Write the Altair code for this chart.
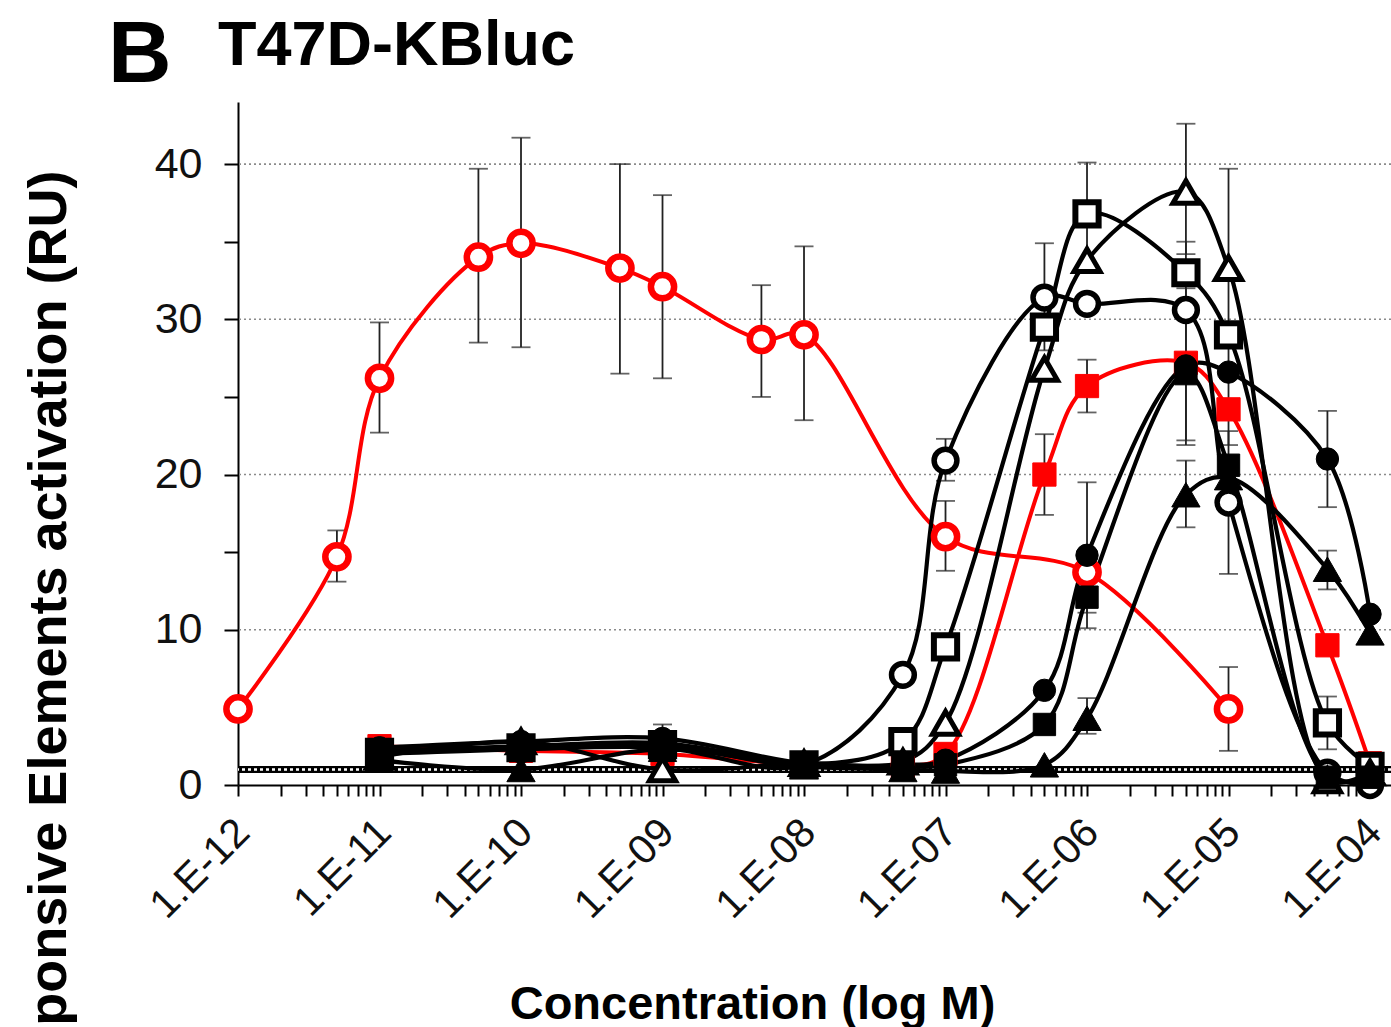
import altair as alt
import pandas as pd

# ---------------- data ----------------
e2_doses = [1e-12, 5e-12, 1e-11, 5e-11, 1e-10, 5e-10, 1e-9, 5e-9, 1e-8, 1e-7, 1e-6, 1e-5]
e2_values = [4.9, 14.7, 26.2, 34.0, 34.9, 33.3, 32.1, 28.7, 29.0, 16.0, 13.7, 4.9]

doses = [1e-11, 1e-10, 1e-9, 1e-8, 5e-8, 1e-7, 5e-7, 1e-6, 5e-6, 1e-5, 5e-5, 1e-4]
red_square = [2.5, 2.2, 2.0, 1.3, 1.2, 2.0, 20.0, 25.7, 27.2, 24.2, 9.0, 1.4]
open_circle = [2.0, 2.3, 2.4, 1.3, 7.1, 20.9, 31.4, 31.0, 30.6, 18.2, 0.8, 0.0]
open_square = [2.1, 2.4, 2.6, 1.3, 2.8, 8.9, 29.5, 36.8, 33.0, 29.0, 4.0, 1.2]
open_triangle = [1.8, 2.8, 1.0, 1.4, 1.5, 4.0, 26.8, 33.8, 38.2, 33.3, 0.3, 0.8]
filled_circle = [2.4, 2.8, 3.0, 1.4, 1.3, 1.6, 6.1, 14.8, 27.0, 26.6, 21.0, 11.0]
filled_square = [2.2, 2.5, 2.7, 1.3, 1.2, 1.3, 3.9, 12.1, 26.5, 20.6, 0.5, 0.5]
filled_triangle = [1.6, 1.0, 2.3, 1.2, 1.0, 0.9, 1.3, 4.3, 18.7, 19.8, 13.9, 9.8]

# error bars
err_series = (["E2"] * 10 + ["red_square"] * 3 + ["open_circle"] * 3 + ["open_square"] * 3
              + ["open_triangle"] * 2 + ["filled_circle"] * 4 + ["filled_square"] * 2
              + ["filled_triangle"] * 3)
err_doses = [5e-12, 1e-11, 5e-11, 1e-10, 5e-10, 1e-9, 5e-9, 1e-8, 1e-7, 1e-5,
             5e-7, 1e-6, 1e-5,
             1e-7, 5e-7, 1e-5,
             1e-6, 5e-6, 5e-5,
             5e-6, 1e-5,
             1e-9, 1e-6, 5e-6, 5e-5,
             1e-6, 5e-6,
             1e-6, 5e-6, 5e-5]
err_low = [13.1, 22.7, 28.5, 28.2, 26.5, 26.2, 25.0, 23.5, 13.8, 2.2,
           17.4, 24.0, 21.9,
           19.6, 28.0, 13.6,
           33.5, 31.0, 2.3,
           34.2, 27.0,
           2.1, 10.1, 21.9, 17.9,
           11.1, 22.2,
           3.3, 16.6, 12.6]
err_high = [16.4, 29.8, 39.7, 41.7, 40.0, 38.0, 32.2, 34.7, 18.3, 7.6,
            22.6, 27.4, 26.5,
            22.3, 34.9, 22.8,
            40.1, 35.0, 5.7,
            42.6, 39.7,
            3.9, 19.5, 32.0, 24.1,
            13.1, 30.8,
            5.6, 20.9, 15.1]

grid_values = [10, 20, 30, 40]
baseline_value = [1.0]
y_ticks = [0, 5, 10, 15, 20, 25, 30, 35, 40]
x_ticks = [m * 10.0 ** e for e in range(-12, -4) for m in range(1, 10)] + [1e-4]

# ---------------- styles ----------------
RED = "#ff0000"
BLK = "#000000"
series_order = ["E2", "red_square", "open_circle", "open_square", "open_triangle",
                "filled_circle", "filled_square", "filled_triangle"]
series_values = {
    "E2": (e2_doses, e2_values),
    "red_square": (doses, red_square),
    "open_circle": (doses, open_circle),
    "open_square": (doses, open_square),
    "open_triangle": (doses, open_triangle),
    "filled_circle": (doses, filled_circle),
    "filled_square": (doses, filled_square),
    "filled_triangle": (doses, filled_triangle),
}
styles = {
    "E2": dict(shape="circle", fill="white", stroke=RED, size=540, sw=6.5, line=RED, lw=4),
    "red_square": dict(shape="square", fill=RED, stroke=RED, size=540, sw=1, line=RED, lw=4),
    "open_circle": dict(shape="circle", fill="white", stroke=BLK, size=520, sw=5.5, line=BLK, lw=4.2),
    "open_square": dict(shape="square", fill="white", stroke=BLK, size=540, sw=6, line=BLK, lw=4.2),
    "open_triangle": dict(shape="triangle-up", fill="white", stroke=BLK, size=680, sw=5, line=BLK, lw=4.2),
    "filled_circle": dict(shape="circle", fill=BLK, stroke=BLK, size=500, sw=1, line=BLK, lw=4.2),
    "filled_square": dict(shape="square", fill=BLK, stroke=BLK, size=500, sw=1, line=BLK, lw=4.2),
    "filled_triangle": dict(shape="triangle-up", fill=BLK, stroke=BLK, size=800, sw=1, line=BLK, lw=4.2),
}

FONT = "Liberation Sans, Arial, sans-serif"

XS = alt.Scale(type="log", domain=[1e-12, 1.407e-4], nice=False)
YS = alt.Scale(domain=[0, 44], nice=False, zero=False)

exp_expr = "round(log(datum.value)/LN10)"
x_label_expr = (
    f"abs(log(datum.value)/LN10 - {exp_expr}) < 0.001 ? "
    f"'1.E-' + (abs({exp_expr}) < 10 ? '0' : '') + abs({exp_expr}) : ''"
)

x_axis = alt.Axis(
    values=x_ticks, labelExpr=x_label_expr, labelAngle=315, labelAlign="right",
    labelBaseline="middle", labelFontSize=41, labelPadding=30, labelOffset=5,
    tickSize=11, tickWidth=2, domainWidth=2, grid=False,
    labelOverlap=False, labelFlush=False, labelBound=False,
    title="Concentration (log M)", titleFont=FONT, titleFontSize=47,
    titleFontWeight="bold", titleX=514, titleY=233, titleAlign="center",
    titleBaseline="alphabetic", titleAngle=0,
)
y_axis = alt.Axis(
    values=y_ticks, labelExpr="datum.value % 10 === 0 ? datum.label : ''",
    labelFontSize=43, labelPadding=22, tickSize=14, tickWidth=2, domainWidth=2,
    grid=False, labelOverlap=False, labelFlush=False,
    title="Estrogen Responsive Elements  activation (RU)", titleFont=FONT,
    titleFontSize=54, titleFontWeight="bold", titleAngle=270, titleAlign="right",
    titleBaseline="alphabetic", titleX=-173, titleY=68,
)


def X(field):
    return alt.X(f"{field}:Q", scale=XS, axis=x_axis)


def Y(field):
    return alt.Y(f"{field}:Q", scale=YS, axis=y_axis)


layers = []

# grid lines
grid_df = pd.DataFrame({"g": grid_values})
layers.append(alt.Chart(grid_df).mark_rule(color="#8a8a8a", strokeWidth=1.6, strokeDash=[2, 3])
              .encode(y=Y("g")))

# baseline band (control level)
base_df = pd.DataFrame({"b": baseline_value})
layers.append(alt.Chart(base_df).mark_rule(color="black", strokeWidth=7).encode(y=Y("b")))
layers.append(alt.Chart(base_df).mark_rule(color="white", strokeWidth=2.5, strokeDash=[3, 3])
              .encode(y=Y("b")))

# error bars
err_df = pd.DataFrame({"series": err_series, "dose": err_doses, "lo": err_low, "hi": err_high})
layers.append(alt.Chart(err_df).mark_rule(color="#222222", strokeWidth=1.8)
              .encode(x=X("dose"), y=Y("lo"), y2="hi:Q"))
layers.append(alt.Chart(err_df).mark_tick(orient="horizontal", size=19, thickness=1.8, color="#222222")
              .encode(x=X("dose"), y=Y("lo")))
layers.append(alt.Chart(err_df).mark_tick(orient="horizontal", size=19, thickness=1.8, color="#222222")
              .encode(x=X("dose"), y=Y("hi")))

frames = {}
for s in series_order:
    d, v = series_values[s]
    frames[s] = pd.DataFrame({"dose": d, "value": v, "series": s})

# lines
for s in series_order:
    st = styles[s]
    layers.append(alt.Chart(frames[s]).mark_line(interpolate="catmull-rom", color=st["line"],
                                                 strokeWidth=st["lw"])
                  .encode(x=X("dose"), y=Y("value")))

# markers (red first, black on top)
for s in series_order:
    st = styles[s]
    layers.append(alt.Chart(frames[s]).mark_point(shape=st["shape"], filled=True, fill=st["fill"],
                                                  stroke=st["stroke"], strokeWidth=st["sw"],
                                                  size=st["size"], opacity=1)
                  .encode(x=X("dose"), y=Y("value")))

# panel letter and title
layers.append(alt.Chart(pd.DataFrame({"t": ["B"]})).mark_text(
    align="left", baseline="alphabetic", fontSize=88, fontWeight="bold", font=FONT, color="black")
    .encode(text="t:N", x=alt.value(-130), y=alt.value(-20)))
layers.append(alt.Chart(pd.DataFrame({"t": ["T47D-KBluc"]})).mark_text(
    align="left", baseline="alphabetic", fontSize=63, fontWeight="bold", font=FONT, color="black")
    .encode(text="t:N", x=alt.value(-20), y=alt.value(-37)))

chart = (
    alt.layer(*layers)
    .properties(width=1153, height=683,
                padding={"left": 238, "top": 102, "right": 0, "bottom": 242},
                autosize=alt.AutoSizeParams(type="none"), background="white")
    .configure_view(stroke=None)
    .configure_axis(domainColor="black", tickColor="black", labelColor="#111111",
                    labelFont=FONT, titleColor="black")
)

chart.save("out.html", embed_options={"renderer": "svg", "actions": False})
